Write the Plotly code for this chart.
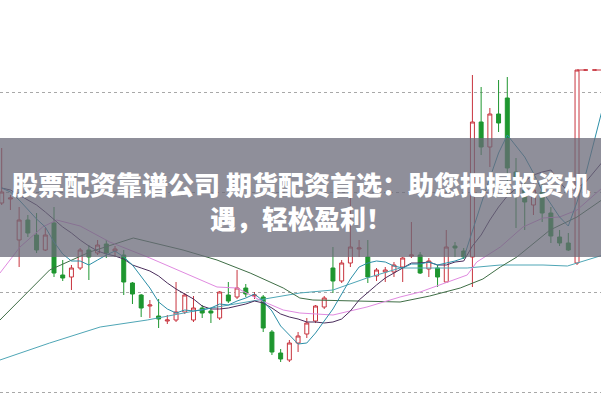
import plotly.graph_objects as go

# candle index 0..69 (prices in cents)
idx = list(range(70))
open_ = [297, 301, 260, 280, 265, 250, 277, 225, 223, 232, 250, 247, 256, 249, 245, 217, 205, 194, 184, 179,
         180, 188, 180, 192, 189, 182, 205, 203, 212, 204, 203, 168, 147, 140, 157, 166, 179, 193, 232, 219,
         237, 251, 243, 224, 228, 228, 233, 244, 245, 231, 232, 218, 254, 249, 243, 378, 353, 386, 402, 328,
         310, 295, 308, 287, 263, 257, 237, 430, 430, 430]
high = [352, 305, 293, 285, 287, 272, 293, 240, 235, 252, 255, 260, 260, 254, 250, 218, 206, 200, 201, 185,
        218, 207, 204, 195, 192, 209, 218, 230, 216, 208, 205, 170, 151, 160, 168, 182, 195, 204, 253, 240,
        302, 260, 260, 232, 233, 238, 243, 278, 248, 242, 235, 270, 258, 252, 425, 413, 392, 420, 423, 342,
        322, 322, 320, 293, 270, 267, 430, 430, 430, 430]
low = [295, 290, 233, 263, 247, 249, 223, 219, 210, 230, 220, 245, 242, 243, 205, 196, 183, 182, 172, 176,
       178, 186, 178, 182, 177, 180, 197, 201, 203, 201, 168, 145, 138, 138, 148, 162, 177, 191, 207, 217,
       233, 243, 217, 219, 218, 223, 218, 242, 226, 223, 213, 217, 243, 241, 213, 345, 333, 368, 303, 272,
       270, 285, 278, 257, 254, 249, 235, 430, 430, 430]
close = [308, 302, 280, 267, 250, 265, 227, 222, 232, 250, 243, 255, 247, 251, 218, 206, 192, 195, 181, 180,
         188, 205, 192, 187, 187, 208, 199, 212, 206, 205, 172, 148, 141, 157, 164, 177, 194, 202, 219, 237,
         253, 252, 223, 230, 230, 235, 242, 245, 227, 239, 223, 253, 252, 243, 378, 353, 386, 377, 332, 320,
         298, 310, 287, 264, 257, 250, 430, 430, 430, 430]

ma5 = [312, 308, 300, 290, 281, 273, 258, 246, 239, 239, 235, 240, 245, 249, 243, 235, 223, 212, 198, 191,
       187, 190, 189, 190, 192, 196, 195, 199, 202, 206, 199, 189, 174, 165, 156, 157, 167, 179, 191, 206,
       221, 233, 237, 239, 238, 234, 232, 236, 236, 238, 235, 237, 239, 242, 270, 296, 322, 347, 365, 354,
       343, 327, 309, 296, 283, 274, 298, 326, 359, 394]
ma10 = [312, 310, 305, 300, 295, 288, 280, 273, 267, 260, 254, 249, 246, 244, 241, 235, 232, 229, 224, 217,
        211, 206, 201, 194, 191, 191, 192, 194, 196, 199, 197, 192, 186, 183, 181, 178, 178, 177, 178, 181,
        189, 200, 208, 215, 222, 227, 232, 237, 237, 238, 235, 235, 238, 239, 254, 265, 280, 293, 304, 312,
        319, 325, 328, 330, 318, 308, 312, 318, 328, 339]

ma20_x = [-0.2, 2.1, 4.7, 6.3, 9, 12.4, 17, 22.7, 24.7, 27, 29.6, 32.3, 34.2, 38, 41.9, 45.7, 48, 53.4,
          54.5, 57.2, 59.8, 62.1, 64, 66, 69]
ma20 = [227, 253, 273, 280, 274, 258, 242, 220, 213, 212, 200, 190, 187, 185, 193, 203, 208, 225,
        238, 253, 273, 282, 283, 290, 313]
ma30_x = [-0.2, 2.7, 5.5, 10.1, 15.1, 17, 20.8, 24.7, 28.5, 32.3, 34.2, 35.7, 40, 45.7, 49.1, 52.6, 55.2,
          57.2, 59.1, 62.9, 66, 69]
ma30 = [180, 205, 230, 248, 262, 258, 250, 240, 227, 212, 202, 200, 199, 198, 204, 212, 221,
        233, 243, 270, 283, 301]
ma60_x = [-0.2, 5.5, 11.3, 16.7, 22.7, 29.6, 34.2, 38, 41.9, 45.7, 53.4, 57.2, 62.1, 64.9, 66, 69]
ma60 = [140, 157, 173, 180, 190, 200, 207, 210, 222, 232, 232, 235, 235, 234, 237, 245]

RED = "#c8343e"
GREEN = "#1e962f"

fig = go.Figure()

def add_line(x, y, color):
    fig.add_trace(go.Scatter(x=x, y=y, mode="lines", line=dict(color=color, width=1),
                             hoverinfo="skip", showlegend=False))

add_line(ma60_x, ma60, "#4fa6b6")
add_line(ma30_x, ma30, "#3f6e46")
add_line(ma20_x, ma20, "#e08ae0")
add_line(idx, ma10, "#4a2d5c")
add_line(idx, ma5, "#2c8fa8")

fig.add_trace(go.Candlestick(
    x=idx, open=open_, high=high, low=low, close=close,
    increasing=dict(line=dict(color=RED, width=1), fillcolor="white"),
    decreasing=dict(line=dict(color=GREEN, width=1), fillcolor=GREEN),
    whiskerwidth=0, showlegend=False,
))

# last price dashed line
fig.add_trace(go.Scatter(x=[idx[66], 68.75], y=[close[66], close[66]], mode="lines",
                         line=dict(color=RED, width=1, dash="dash"), showlegend=False, hoverinfo="skip"))

H = 397
fig.add_shape(type="rect", xref="paper", yref="paper", x0=0, x1=1,
              y0=1 - 257 / H, y1=1 - 138 / H, fillcolor="rgba(105,105,120,0.75)",
              line=dict(width=0), layer="above")
fig.add_annotation(xref="paper", yref="paper", x=0.5, y=1 - 200.5 / H,
                   text="股票配资靠谱公司 期货配资首选：助您把握投资机<br>遇，轻松盈利！",
                   showarrow=False, xanchor="center", yanchor="middle", align="center",
                   font=dict(family="Noto Sans CJK SC", size=26, color="white", weight=900))

fig.update_layout(
    width=601, height=397, margin=dict(l=0, r=0, t=0, b=0),
    paper_bgcolor="white", plot_bgcolor="white", showlegend=False,
    boxgap=0.35,
    xaxis=dict(range=[-0.195, 68.75], visible=False, rangeslider=dict(visible=False),
               showgrid=False, zeroline=False),
    yaxis=dict(range=[103, 500], tick0=8, dtick=100, showticklabels=False, ticks="",
               showgrid=True, gridcolor="#a8a8a8", griddash="dot", gridwidth=1,
               zeroline=False, showline=False),
)

fig.write_html("out.html")
